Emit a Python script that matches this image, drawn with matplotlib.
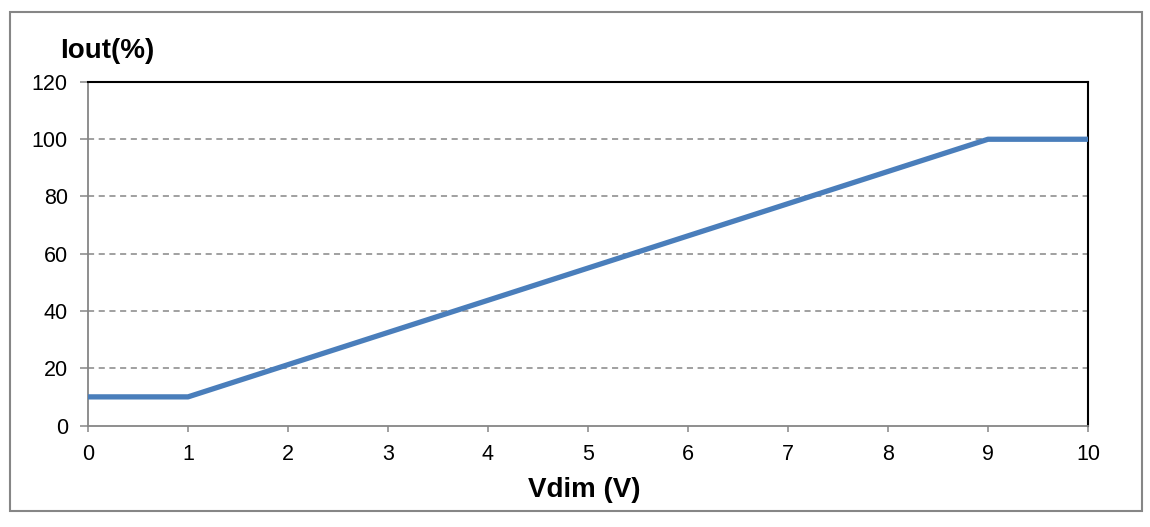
import matplotlib
matplotlib.use("Agg")
import matplotlib.pyplot as plt
from matplotlib.patches import Rectangle

plt.rcParams['font.family'] = ['Liberation Sans', 'DejaVu Sans']

vdim = [0, 1, 9, 10]
iout = [10, 10, 100, 100]
xticks = list(range(0, 11))
yticks = [0, 20, 40, 60, 80, 100, 120]

W, H = 1150, 527
fig = plt.figure(figsize=(W / 100, H / 100), dpi=100)
ax = fig.add_axes([88 / W, 1 - 425.5 / H, (1088 - 88) / W, (425.5 - 82) / H])

# outer border
fig.patches.append(Rectangle((10 / W, 1 - 510.5 / H), (1141.5 - 10) / W, (510.5 - 12) / H,
                             transform=fig.transFigure, fill=False, edgecolor='#868686',
                             linewidth=1.5))

for y in yticks[1:-1]:
    ax.axhline(y, color='#868686', linestyle=(0, (4, 3)), linewidth=1.1, zorder=1)

ax.plot(vdim, iout, color='#4a7ebb', linewidth=3.8, solid_capstyle='butt', zorder=3, clip_on=False)

ax.set_xlim(0, 10)
ax.set_ylim(0, 120)
ax.set_xticks(xticks)
ax.set_yticks(yticks)
ax.tick_params(axis='both', direction='out', width=1.1, color='#868686', labelsize=15.5)
ax.tick_params(axis='y', length=5.5, pad=9)
ax.tick_params(axis='x', length=4.5, pad=9)
for s in ['left', 'bottom']:
    ax.spines[s].set_color('#868686')
    ax.spines[s].set_linewidth(1.3)
for s in ['top', 'right']:
    ax.spines[s].set_color('black')
    ax.spines[s].set_linewidth(1.5)

fig.text(107 / W, 1 - 51 / H, 'Iout(%)', fontsize=20, fontweight='bold', ha='center', va='center')
fig.text(584 / W, 1 - 490 / H, 'Vdim (V)', fontsize=20, fontweight='bold', ha='center', va='center')

fig.savefig('out.png', dpi=100)
